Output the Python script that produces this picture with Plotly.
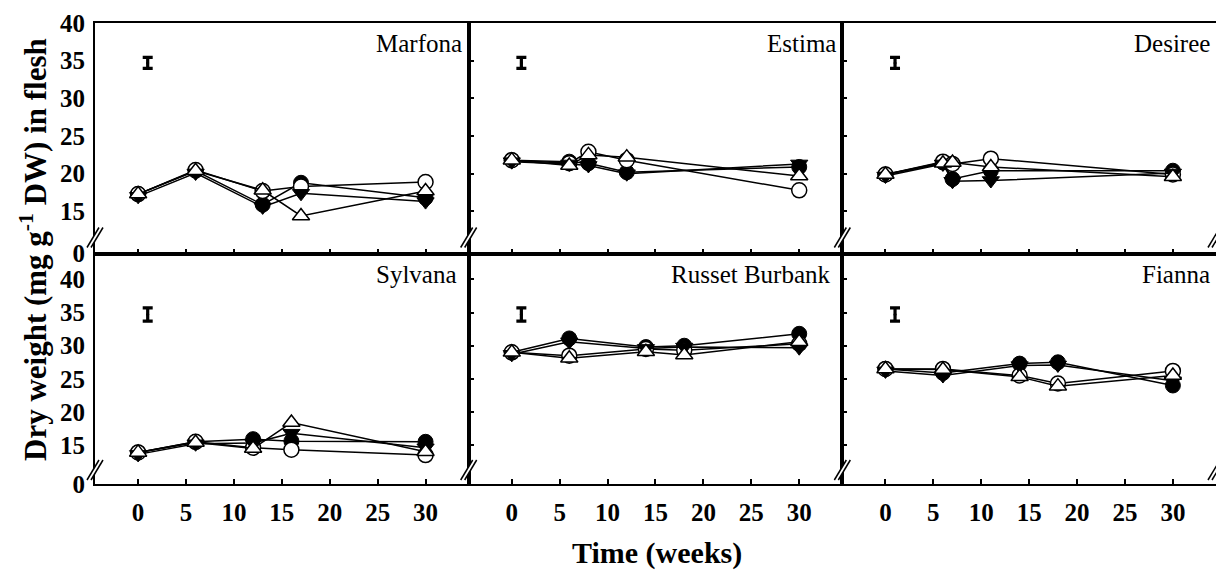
import plotly.graph_objects as go
from plotly.subplots import make_subplots

# ---------------- data ----------------
cultivars = ["Marfona", "Estima", "Desiree", "Sylvana", "Russet Burbank", "Fianna"]

weeks = [
    [0, 6, 13, 17, 30],
    [0, 6, 8, 12, 30],
    [0, 6, 7, 11, 30],
    [0, 6, 12, 16, 30],
    [0, 6, 14, 18, 30],
    [0, 6, 14, 18, 30],
]

filled_circle = [
    [17.3, 20.4, 15.9, 18.8, 16.8],
    [21.8, 21.6, 21.4, 20.2, 20.9],
    [19.9, 21.5, 19.3, 20.4, 20.4],
    [13.9, 15.5, 15.9, 15.6, 15.5],
    [29.0, 31.1, 29.8, 30.0, 31.8],
    [26.5, 25.9, 27.3, 27.5, 24.0],
]
open_circle = [
    [17.3, 20.5, 17.7, 18.3, 18.9],
    [21.8, 21.4, 22.9, 21.8, 17.8],
    [19.9, 21.6, 21.3, 22.0, 19.9],
    [13.9, 15.5, 14.6, 14.3, 13.5],
    [29.0, 28.5, 29.5, 29.3, 30.3],
    [26.5, 26.5, 25.5, 24.3, 26.2],
]
filled_triangle_down = [
    [17.0, 20.1, 15.6, 17.4, 16.3],
    [21.6, 21.3, 21.1, 20.0, 21.3],
    [19.7, 21.3, 19.0, 19.1, 20.1],
    [13.6, 15.2, 15.3, 16.8, 14.6],
    [28.7, 30.6, 29.6, 29.8, 29.7],
    [26.2, 25.5, 27.0, 27.1, 24.7],
]
open_triangle_up = [
    [17.3, 20.4, 17.8, 14.4, 17.7],
    [21.8, 21.1, 22.5, 22.2, 19.7],
    [19.9, 21.4, 21.5, 20.9, 19.6],
    [13.9, 15.4, 14.5, 18.4, 14.0],
    [29.0, 28.1, 29.1, 28.6, 30.6],
    [26.5, 26.4, 25.3, 23.9, 25.5],
]

# LSD bar (centre and half length) per panel
lsd_week = [1, 1, 1, 1, 1, 1]
lsd_center = [34.7, 34.7, 34.7, 34.7, 34.7, 34.7]
lsd_half = [0.73, 0.73, 0.73, 1.0, 1.0, 1.0]

x_ticks = [0, 5, 10, 15, 20, 25, 30]
y_ticks = [15, 20, 25, 30, 35, 40]
y_tick_text = ["0", "15", "20", "25", "30", "35", "40"]

# ---------------- figure ----------------
W, H = 1216, 570
ML, MR, MT, MB = 95, 0, 23, 86
FONT = "Liberation Serif"

fig = make_subplots(rows=2, cols=3, horizontal_spacing=0, vertical_spacing=0)

series_styles = [
    (filled_circle, dict(symbol="circle", size=15, color="black", line=dict(color="black", width=1))),
    (open_circle, dict(symbol="circle", size=15, color="white", line=dict(color="black", width=1.5))),
    (filled_triangle_down, dict(symbol="triangle-down", size=15, color="black", line=dict(color="black", width=1))),
    (open_triangle_up, dict(symbol="triangle-up", size=15, color="white", line=dict(color="black", width=1.5))),
]

for i, name in enumerate(cultivars):
    r, c = i // 3 + 1, i % 3 + 1
    for vals, mk in series_styles:
        fig.add_trace(go.Scatter(x=weeks[i], y=vals[i], mode="lines+markers",
                                 line=dict(color="black", width=1.5), marker=mk,
                                 showlegend=False, hoverinfo="skip"), row=r, col=c)
    fig.add_trace(go.Scatter(x=[lsd_week[i]], y=[lsd_center[i]], mode="markers",
                             marker=dict(size=3, color="black"),
                             error_y=dict(type="data", array=[lsd_half[i]], color="black",
                                          thickness=3.2, width=5),
                             showlegend=False, hoverinfo="skip"), row=r, col=c)

# y ranges: broken axis, bottom of each panel labelled 0
y_bottom = {1: 9.415, 2: 9.13}
y_top = {1: 40, 2: 43.92}
tick_font = dict(family=FONT, size=25, color="black", weight="bold")

for i in range(6):
    r, c = i // 3 + 1, i % 3 + 1
    fig.update_xaxes(range=[-4.5, 34.5], tickvals=x_ticks, ticks="inside", ticklen=5,
                     tickwidth=1.5, tickcolor="black", showline=True, linewidth=2,
                     linecolor="black", mirror=True, showgrid=False, zeroline=False,
                     showticklabels=(r == 2), ticklabelstandoff=5,
                     tickfont=tick_font, row=r, col=c)
    tv = [y_bottom[r]] + y_ticks
    fig.update_yaxes(range=[y_bottom[r], y_top[r]], tickvals=tv, ticktext=y_tick_text,
                     ticks=("" if c == 1 else "inside"), ticklen=5,
                     tickwidth=1.5, tickcolor="black", showline=True, linewidth=2,
                     linecolor="black", mirror=True, showgrid=False, zeroline=False,
                     showticklabels=(c == 1), ticklabelstandoff=3,
                     tickfont=tick_font, row=r, col=c)

# outside tick marks on the left column (separate overlaying axes, no labels)
for name, base, anch, r in (("yaxis7", "y", "x", 1), ("yaxis8", "y4", "x4", 2)):
    fig.layout[name] = dict(overlaying=base, anchor=anch, side="left",
                            range=[y_bottom[r], y_top[r]], tickvals=[y_bottom[r]] + y_ticks,
                            ticks="outside", ticklen=10, tickwidth=1.5, tickcolor="black",
                            showticklabels=False, showline=False, showgrid=False, zeroline=False)

# cultivar labels
xshifts = [-5, -4, -4, -10, -9, -4]
for i, name in enumerate(cultivars):
    k = i + 1
    suffix = "" if k == 1 else str(k)
    fig.add_annotation(text=name, xref=f"x{suffix} domain", yref=f"y{suffix} domain",
                       x=1, y=1, xanchor="right", yanchor="top", xshift=xshifts[i], yshift=-5,
                       showarrow=False, font=dict(family=FONT, size=25, color="black"))

pw = W - ML - MR
ph = H - MT - MB


def px(x):
    return (x - ML) / pw


def py(y):
    return (H - MB - y) / ph


# axis titles
fig.add_annotation(text="<b>Dry weight (mg g<sup>-1</sup> DW) in flesh</b>", xref="paper", yref="paper",
                   x=px(33), y=py(250), xanchor="center", yanchor="middle", textangle=-90,
                   showarrow=False, font=dict(family=FONT, size=31, color="black"))
fig.add_annotation(text="<b>Time (weeks)</b>", xref="paper", yref="paper",
                   x=px(657), y=py(553), xanchor="center", yanchor="middle",
                   showarrow=False, font=dict(family=FONT, size=30, color="black"))

# axis break marks
edges = [ML, ML + pw / 3, ML + 2 * pw / 3, ML + pw]
rows_cy = [237.5, 470]
shapes = []
for cy in rows_cy:
    for cx in edges:
        a0 = (cx - 8, cy + 10); a1 = (cx + 4, cy - 10)
        b0 = (cx - 4, cy + 10); b1 = (cx + 8, cy - 10)
        path = "M{},{} L{},{} L{},{} L{},{} Z".format(px(a0[0]), py(a0[1]), px(a1[0]), py(a1[1]),
                                                     px(b1[0]), py(b1[1]), px(b0[0]), py(b0[1]))
        shapes.append(dict(type="path", xref="paper", yref="paper", path=path,
                           fillcolor="white", line=dict(width=0)))
        for p0, p1 in ((a0, a1), (b0, b1)):
            shapes.append(dict(type="line", xref="paper", yref="paper",
                               x0=px(p0[0]), y0=py(p0[1]), x1=px(p1[0]), y1=py(p1[1]),
                               line=dict(color="black", width=1.5)))

fig.update_layout(width=W, height=H, margin=dict(l=ML, r=MR, t=MT, b=MB, autoexpand=False),
                  plot_bgcolor="white", paper_bgcolor="white", showlegend=False,
                  shapes=shapes, font=dict(family=FONT, color="black"))

fig.write_html("out.html")
